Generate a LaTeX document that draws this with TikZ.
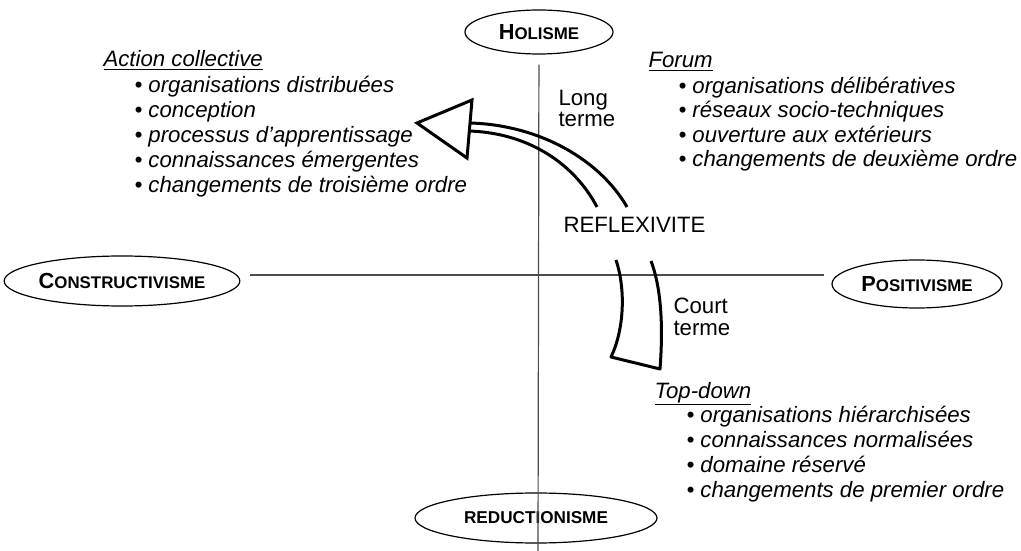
\documentclass[tikz,border=0pt]{standalone}
\usepackage{fontspec}
\setmainfont{Liberation Sans}
\usetikzlibrary{shapes.geometric}
\newlength{\du}
\setlength{\du}{0.025cm}
\newcommand{\polename}[2]{{\fontsize{15.5}{18}\selectfont #1}{\fontsize{12}{14}\selectfont #2}}
\tikzset{
  pole/.style={ellipse, draw, inner sep=0pt, font=\bfseries},
  itemtext/.style={anchor=base west, inner sep=0pt, font=\fontsize{15.8}{18}\selectfont\itshape},
  plaintext/.style={anchor=base west, inner sep=0pt, font=\fontsize{15.8}{18}\selectfont},
}
\begin{document}
\begin{tikzpicture}
\pgftransformxscale{1.000000}
\pgftransformyscale{-1.000000}
\useasboundingbox (0\du,0\du) rectangle (1021\du,551\du);
\definecolor{dialinecolor}{rgb}{0.000000, 0.000000, 0.000000}
\pgfsetstrokecolor{dialinecolor}
\pgfsetlinewidth{1.200000\du}
% poles
\node[pole, minimum width=148\du, minimum height=44\du] (holisme) at (539.000000\du,32.000000\du){\polename{H}{OLISME}};
\node[pole, minimum width=222\du, minimum height=50\du] (constructivisme) at (122.000000\du,281.000000\du){\polename{C}{ONSTRUCTIVISME}};
\node[pole, minimum width=170\du, minimum height=48\du] (positivisme) at (917.000000\du,284.000000\du){\polename{P}{OSITIVISME}};
\node[pole, minimum width=242\du, minimum height=50\du] (reductionisme) at (536.000000\du,518.000000\du){\fontsize{12.2}{14}\selectfont REDUCTIONISME};
% axes
\definecolor{dialinecolor}{rgb}{0.300000, 0.300000, 0.300000}
\pgfsetstrokecolor{dialinecolor}
\coordinate (axisbottom) at (538.000000\du,551.000000\du);
\coordinate (axisrow) at (0\du,275.000000\du);
\draw[shorten <=10\du] (holisme) -- (axisbottom);
\draw[shorten <=10\du, shorten >=7\du] (constructivisme.east |- axisrow) -- (positivisme.west |- axisrow);
% reflexivite
\definecolor{dialinecolor}{rgb}{0.000000, 0.000000, 0.000000}
\pgfsetstrokecolor{dialinecolor}
\pgfsetlinewidth{3.000000\du}
\pgfsetmiterjoin
\draw (417.000000\du,123.000000\du)--(472.000000\du,100.000000\du)--(467.000000\du,158.000000\du)--cycle;
\draw (627.000000\du,207.000000\du) .. controls (600.000000\du,160.000000\du) and (540.000000\du,125.000000\du) .. (470.000000\du,123.000000\du);
\draw (597.000000\du,207.000000\du) .. controls (575.000000\du,165.000000\du) and (530.000000\du,133.000000\du) .. (469.000000\du,131.000000\du);
\pgfsetroundjoin
\draw (616.000000\du,260.000000\du) .. controls (626.000000\du,290.000000\du) and (624.000000\du,330.000000\du) .. (611.000000\du,357.000000\du)--(660.000000\du,369.000000\du) .. controls (663.000000\du,330.000000\du) and (662.000000\du,290.000000\du) .. (651.000000\du,261.000000\du);
\node[plaintext] (reflexivite) at (562.000000\du,233.000000\du){REFLEXIVITE};
\node[plaintext] (long) at (557.000000\du,106.000000\du){Long};
\node[plaintext] (longterme) at (557.000000\du,127.000000\du){terme};
\node[plaintext] (court) at (672.000000\du,314.000000\du){Court};
\node[plaintext] (courtterme) at (672.000000\du,335.000000\du){terme};
% action collective
\node[itemtext] (action) at (102.000000\du,67.000000\du){\underline{Action collective}};
\node[itemtext] (action1) at (133.000000\du,93.000000\du){\textbullet\ organisations distribuées};
\node[itemtext] (action2) at (133.000000\du,118.000000\du){\textbullet\ conception};
\node[itemtext] (action3) at (133.000000\du,143.000000\du){\textbullet\ processus d’apprentissage};
\node[itemtext] (action4) at (133.000000\du,168.000000\du){\textbullet\ connaissances émergentes};
\node[itemtext] (action5) at (133.000000\du,193.000000\du){\textbullet\ changements de troisième ordre};
% forum
\node[itemtext] (forum) at (647.000000\du,68.000000\du){\underline{Forum}};
\node[itemtext] (forum1) at (677.000000\du,94.000000\du){\textbullet\ organisations délibératives};
\node[itemtext] (forum2) at (677.000000\du,118.000000\du){\textbullet\ réseaux socio-techniques};
\node[itemtext] (forum3) at (677.000000\du,143.000000\du){\textbullet\ ouverture aux extérieurs};
\node[itemtext] (forum4) at (677.000000\du,167.000000\du){\textbullet\ changements de deuxième ordre};
% top-down
\node[itemtext] (topdown) at (653.000000\du,398.000000\du){\underline{Top-down}};
\node[itemtext] (topdown1) at (685.000000\du,422.000000\du){\textbullet\ organisations hiérarchisées};
\node[itemtext] (topdown2) at (685.000000\du,447.000000\du){\textbullet\ connaissances normalisées};
\node[itemtext] (topdown3) at (685.000000\du,472.000000\du){\textbullet\ domaine réservé};
\node[itemtext] (topdown4) at (685.000000\du,497.000000\du){\textbullet\ changements de premier ordre};
\end{tikzpicture}
\end{document}
